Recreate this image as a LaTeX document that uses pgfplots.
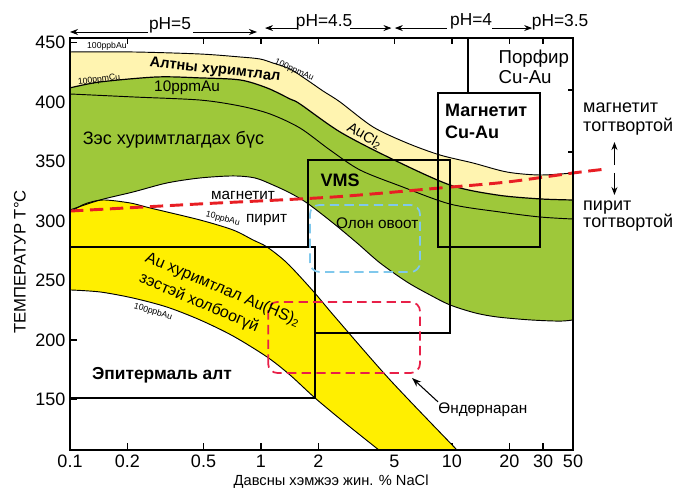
\documentclass[border=0pt]{standalone}
\usepackage{pgfplots}
\pgfplotsset{compat=1.18}
\usepgfplotslibrary{fillbetween}
\usetikzlibrary{arrows.meta}
\usepackage{fontspec}
\setmainfont{Liberation Sans}
\definecolor{cgreen}{RGB}{158,200,58}
\definecolor{clyellow}{RGB}{255,244,176}
\definecolor{cyellow}{RGB}{255,239,0}
\definecolor{cred}{RGB}{232,30,36}
\definecolor{cblue}{RGB}{128,200,236}
\definecolor{cpink}{RGB}{232,32,72}
\newcommand{\fs}[1]{\fontsize{#1}{#1}\selectfont}
\tikzset{harr/.style={-{Stealth[length=6pt,width=4.5pt]}, line width=0.6pt}}
\begin{document}
\begin{tikzpicture}
\begin{axis}[
  xmode=log, log basis x=10,
  scale only axis, width=377.25pt, height=309.2pt,
  xmin=0.1, xmax=43.01, ymin=107.7, ymax=454.2,
  clip=false,
  axis line style={line width=1.5pt},
  xtick={0.1,0.2,0.5,1,2,5,10,20,30,43.01},
  xticklabels={0.1,0.2,0.5,1,2,5,10,20,30,50},
  minor xtick={},
  ytick={150,200,250,300,350,400,450},
  yticklabels={150,200,250,300,350,400,450},
  xtick pos=both, ytick pos=left,
  tick align=inside, major tick length=5pt,
  tick style={line width=1pt, black},
  ticklabel style={font=\fs{13.5}},
  /pgf/number format/assume math mode=true,
]
% light yellow band (gold accumulation)
\addplot[name path=LYup, black, line width=0.7pt, smooth] coordinates {
(0.1,442.2) (0.2137,442.2) (0.4793,440.5) (0.7765,438.0) (0.9881,436.3) (1.156,432.9) (1.419,427.9) (1.741,418.7) (2.112,409.4) (2.592,400.2) (3.859,379.2) (5.812,365.7) (8.652,355.6) (12.88,348.9) (19.41,341.3) (28.89,338.8) (43.01,340.5)};
\addplot[name path=LYlo, black, line width=0.9pt, smooth] coordinates {
(0.1,412.0) (0.1436,417.0) (0.2855,421.2) (0.4793,420.4) (0.7765,418.7) (1.075,412.0) (1.419,402.7) (1.600,398.5) (2.592,375.0) (4.736,353.1) (9.761,330.4) (17.20,322.0) (28.89,318.7) (43.01,317.8)};
% 10ppmAu
\addplot[black, line width=0.7pt, smooth] coordinates {
(0.1,406.9) (0.2137,404.4) (0.4793,401.8) (0.7765,396.8) (1.115,390.1) (1.600,378.3) (2.298,359.8) (3.299,343.0) (5.343,329.6) (9.761,314.4) (17.84,307.7) (28.89,303.5) (43.01,301.8)};
% green lower boundary
\addplot[name path=GRlo, black, line width=0.7pt, smooth] coordinates {
(0.1,309.4) (0.1436,317.8) (0.2137,324.5) (0.3220,332.1) (0.4793,336.3) (0.7135,338.0) (0.9303,336.3) (1.156,330.4) (1.419,323.7) (1.741,315.3) (2.382,298.5) (3.182,281.7) (4.198,264.9) (5.812,248.9) (7.672,238.0) (9.761,229.6) (13.20,222.9) (17.20,219.5) (25.61,217.0) (36.77,216.0) (43.01,217.0)};
% bright yellow band
\addplot[name path=YEup, black, line width=0.7pt, smooth] coordinates {
(0.1,307.7) (0.1198,314.5) (0.1489,317.8) (0.2061,315.3) (0.2624,311.1) (0.4793,301.0) (0.7135,292.6) (0.9082,284.2) (1.075,278.3) (1.368,264.9) (1.873,241.3) (2.44,219.5) (4.736,166.6) (10.62,107.7)};
\addplot[name path=YElo, black, line width=0.7pt, smooth] coordinates {
(0.1,242.2) (0.1436,240.5) (0.2137,235.4) (0.3220,227.8) (0.4793,217.0) (0.7135,203.5) (1.075,185.9) (1.419,170.7) (1.918,151.4) (2.753,130.4) (4.14,107.7)};
\addplot[cgreen] fill between[of=LYlo and GRlo];
\addplot[clyellow] fill between[of=LYup and LYlo];
\addplot[cyellow] fill between[of=YEup and YElo];
% magnetite / pyrite boundary
\addplot[cred, line width=2.2pt, dash pattern=on 10pt off 5pt, smooth] coordinates {
(0.1,308.5) (0.4793,314.5) (2.382,320.3) (8.652,327.9) (19.41,332.9) (43.01,340.5) (64.8,343.9)};
% boxes
\draw[line width=1.2pt] (axis cs:0.1,278.3) -- (axis cs:1.918,278.3) -- (axis cs:1.918,151.4) -- (axis cs:0.1,151.4);
\draw[line width=1.2pt] (axis cs:1.762,278.3) -- (axis cs:1.762,351.4) -- (axis cs:9.761,351.4) -- (axis cs:9.761,206.0) -- (axis cs:1.918,206.0);
\draw[line width=1.2pt] (axis cs:8.45,278.3) rectangle (axis cs:28.89,407.7);
\draw[line width=1.2pt] (axis cs:12.13,454.2) -- (axis cs:12.13,407.7);
\draw[line width=1pt] (axis cs:43.01,410.2) -- (axis cs:40.5,410.2);
\draw[line width=1pt] (axis cs:43.01,358.1) -- (axis cs:40.5,358.1);
\draw[cblue, line width=1.3pt, dash pattern=on 7pt off 4pt, rounded corners=7pt] (axis cs:1.805,257.3) rectangle (axis cs:6.8,313.6);
\draw[cpink, line width=1.3pt, dash pattern=on 7pt off 4pt, rounded corners=7pt] (axis cs:1.09,172.4) rectangle (axis cs:6.8,232.1);
\draw[line width=1.5pt] (rel axis cs:0,0) rectangle (rel axis cs:1,1);
% labels
\node[font=\bfseries\fs{11}, rotate=-6.5] at (axis cs:0.574,427.0) {Алтны хуримтлал};
\node[font=\fs{6.5}, rotate=-25] at (axis cs:1.49,427.0) {100ppmAu};
\node[font=\fs{6.5}] at (axis cs:0.156,447.2) {100ppbAu};
\node[font=\fs{6.5}, rotate=7] at (axis cs:0.142,418.7) {100ppmCu};
\node[font=\fs{11.5}] at (axis cs:0.410,412) {10ppmAu};
\node[font=\fs{13.5}] at (axis cs:0.348,368.2) {Зэс хуримтлагдах бүс};
\node[font=\fs{11.5}] at (axis cs:0.805,322) {магнетит};
\node[font=\fs{11.5}] at (axis cs:1.07,301) {пирит};
\node[font=\fs{6.5}, rotate=-15] at (axis cs:0.631,301.8) {10ppbAu};
\node[font=\bfseries\fs{13.5}] at (axis cs:2.592,334.6) {VMS};
\node[font=\fs{11.5}] at (axis cs:4.06,298.5) {Олон овоот};
\node[font=\fs{11}, rotate=-30] at (axis cs:3.49,371.6) {AuCl\textsubscript{2}};
\node[font=\bfseries\fontsize{13.5}{17}\selectfont, align=left, anchor=west, inner sep=0pt] at (axis cs:9.17,383.8) {Магнетит\\Cu-Au};
\node[font=\fontsize{14}{15}\selectfont, align=left, anchor=west, inner sep=0pt] at (axis cs:17.5,429.5) {Порфир\\Cu-Au};
\node[font=\fs{12}, rotate=-23] at (axis cs:0.631,242.2) {Au хуримтлал Au(HS)\textsubscript{2}};
\node[font=\fs{12}, rotate=-23] at (axis cs:0.473,231.3) {зэстэй холбоогүй};
\node[font=\fs{6.5}, rotate=-17] at (axis cs:0.272,223.7) {100ppbAu};
\node[font=\bfseries\fs{13}] at (axis cs:0.303,170.8) {Эпитермаль алт};
\node[font=\fs{11.5}] at (axis cs:14.5,141.3) {Өндөрнаран};
\draw[-{Stealth[length=7pt,width=5pt]}, line width=0.8pt] (axis cs:8.45,148.1) -- (axis cs:6.18,168.2);
% right annotations
\node[font=\fs{13.5}, anchor=west, inner sep=0pt] at (axis cs:48.5,395.1) {магнетит};
\node[font=\fs{13.5}, anchor=west, inner sep=0pt] at (axis cs:48.5,379.1) {тогтвортой};
\draw[harr, line width=0.8pt] (axis cs:70.9,347.2) -- (axis cs:70.9,366.5);
\draw[harr, line width=0.8pt] (axis cs:70.9,340.5) -- (axis cs:70.9,322.0);
\node[font=\fs{13.5}, anchor=west, inner sep=0pt] at (axis cs:48.5,311.1) {пирит};
\node[font=\fs{13.5}, anchor=west, inner sep=0pt] at (axis cs:48.5,298.5) {тогтвортой};
% pH annotations
\draw[harr] (axis cs:0.256,459) -- (axis cs:0.1,459);
\node[font=\fs{13}] at (axis cs:0.334,464.4) {pH=5};
\draw[harr] (axis cs:0.4406,459) -- (axis cs:0.953,459);
\draw[harr] (axis cs:1.56,462.3) -- (axis cs:1.05,462.3);
\node[font=\fs{13}] at (axis cs:2.14,467.4) {pH=4.5};
\draw[harr] (axis cs:2.93,462.3) -- (axis cs:4.82,462.3);
\draw[harr] (axis cs:9.415,462.3) -- (axis cs:5.02,462.3);
\node[font=\fs{13}] at (axis cs:12.6,468.3) {pH=4};
\draw[harr] (axis cs:16.2,462.3) -- (axis cs:26.3,462.3);
\node[font=\fs{13}] at (axis cs:36.8,467.4) {pH=3.5};
% axis titles
\node[rotate=90, font=\fs{12.5}] at (axis cs:0.0547,265.7) {ТЕМПЕРАТУР T°C};
\node[font=\fs{11}] at (axis cs:2.33,80.8) {Давсны хэмжээ жин. \% NaCl};
\coordinate (BBa) at (rel axis cs:-0.13917,-0.10672);
\coordinate (BBb) at (rel axis cs:1.21074,1.09144);
\end{axis}
\pgfresetboundingbox
\path[use as bounding box] (BBa) rectangle (BBb);
\end{tikzpicture}
\end{document}
